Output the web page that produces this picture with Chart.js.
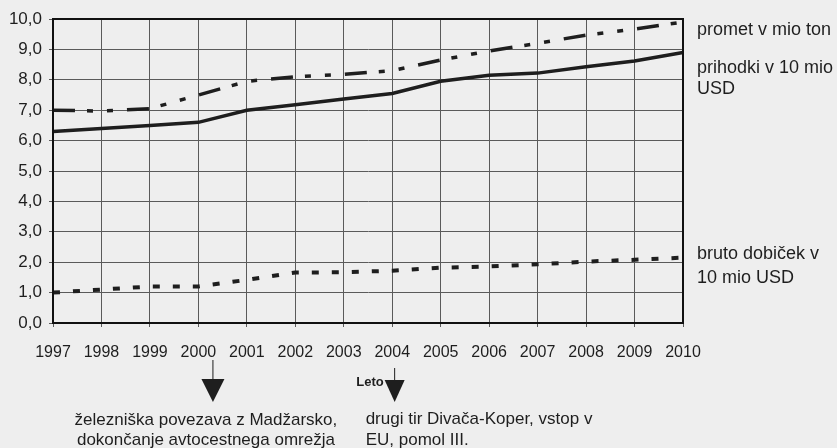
<!DOCTYPE html>
<html>
<head>
<meta charset="utf-8">
<script src="https://cdn.jsdelivr.net/npm/chart.js@4.4.1/dist/chart.umd.min.js"></script>
<style>
  html, body { margin: 0; padding: 0; background: #eeeeee; }
  canvas { display: block; }
</style>
</head>
<body>
<canvas id="c" width="837" height="448"></canvas>
<script>
// Years on the horizontal axis
const years = ['1997','1998','1999','2000','2001','2002','2003','2004','2005','2006','2007','2008','2009','2010'];

// Cargo throughput, million tonnes
const promet = [7.0, 6.97, 7.05, 7.5, 7.95, 8.1, 8.18, 8.3, 8.65, 8.95, 9.2, 9.47, 9.67, 9.9];
// Revenue, 10 million USD
const prihodki = [6.3, 6.4, 6.5, 6.6, 7.0, 7.18, 7.37, 7.55, 7.95, 8.15, 8.22, 8.43, 8.62, 8.9];
// Gross profit, 10 million USD
const bruto = [1.0, 1.1, 1.2, 1.2, 1.42, 1.66, 1.67, 1.72, 1.82, 1.86, 1.93, 2.02, 2.08, 2.15];

// Series labels at the right edge
const seriesLabels = [
  ['promet v mio ton'],
  ['prihodki v 10 mio', 'USD'],
  ['bruto dobiček v', '10 mio USD']
];

// Events marked under the time axis
const events = [
  { at: 3.3, lines: ['železniška povezava z Madžarsko,', 'dokončanje avtocestnega omrežja'] },
  { at: 7.05, lines: ['drugi tir Divača-Koper, vstop v', 'EU, pomol III.'] }
];
const axisTitle = 'Leto';

const FONT = "'Liberation Sans', Arial, sans-serif";
const INK = '#1e1e1e';

const decorations = {
  id: 'decorations',
  afterDraw(chart) {
    const { ctx, chartArea: a, scales } = chart;
    ctx.save();

    // frame around the plot
    ctx.strokeStyle = '#111';
    ctx.lineWidth = 2;
    ctx.strokeRect(a.left, a.top, a.right - a.left, a.bottom - a.top);

    // labels to the right of the lines
    ctx.fillStyle = INK;
    ctx.font = '18px ' + FONT;
    ctx.textAlign = 'left';
    ctx.textBaseline = 'alphabetic';
    const lx = a.right + 14;
    ctx.fillText(seriesLabels[0][0], lx, 35);
    ctx.fillText(seriesLabels[1][0], lx, 73);
    ctx.fillText(seriesLabels[1][1], lx, 94);
    ctx.fillText(seriesLabels[2][0], lx, 259);
    ctx.fillText(seriesLabels[2][1], lx, 283);

    // event arrows
    const b = a.bottom;
    const drawArrow = (x, lineTop, triTop, triBottom, half) => {
      ctx.strokeStyle = INK;
      ctx.lineWidth = 1;
      ctx.beginPath();
      ctx.moveTo(x, lineTop);
      ctx.lineTo(x, triTop);
      ctx.stroke();
      ctx.fillStyle = INK;
      ctx.beginPath();
      ctx.moveTo(x - half, triTop);
      ctx.lineTo(x + half, triTop);
      ctx.lineTo(x, triBottom);
      ctx.closePath();
      ctx.fill();
    };
    const x1 = scales.x.getPixelForValue(events[0].at);
    const x2 = scales.x.getPixelForValue(events[1].at);
    drawArrow(x1, b + 37, b + 56, b + 79, 11.5);
    drawArrow(x2, b + 45, b + 57, b + 79, 10);

    // axis title next to the second arrow
    ctx.fillStyle = INK;
    ctx.font = 'bold 13px ' + FONT;
    ctx.textAlign = 'right';
    ctx.textBaseline = 'middle';
    ctx.fillText(axisTitle, x2 - 11, b + 59);

    // event descriptions
    ctx.font = '17px ' + FONT;
    ctx.textAlign = 'center';
    ctx.fillText(events[0].lines[0], x1 - 7, b + 97);
    ctx.fillText(events[0].lines[1], x1 - 7, b + 117);
    ctx.textAlign = 'left';
    ctx.fillText(events[1].lines[0], x2 - 29, b + 96);
    ctx.fillText(events[1].lines[1], x2 - 29, b + 117);

    ctx.restore();
  }
};

new Chart(document.getElementById('c'), {
  type: 'line',
  data: {
    labels: years,
    datasets: [
      {
        label: 'promet v mio ton',
        data: promet,
        borderColor: INK,
        borderWidth: 3.5,
        borderDash: [22, 12, 6, 14, 6, 14],
        borderCapStyle: 'butt',
        fill: false,
        tension: 0
      },
      {
        label: 'prihodki v 10 mio USD',
        data: prihodki,
        borderColor: INK,
        borderWidth: 3.5,
        fill: false,
        tension: 0
      },
      {
        label: 'bruto dobiček v 10 mio USD',
        data: bruto,
        borderColor: INK,
        borderWidth: 4,
        borderDash: [7, 13],
        borderCapStyle: 'butt',
        fill: false,
        tension: 0
      }
    ]
  },
  options: {
    responsive: false,
    devicePixelRatio: 1,
    animation: false,
    layout: { padding: { top: 19, right: 154, left: 0, bottom: 0 } },
    elements: { point: { radius: 0 } },
    plugins: { legend: { display: false }, tooltip: { enabled: false } },
    scales: {
      x: {
        type: 'category',
        offset: false,
        grid: { color: '#5a5a5a', lineWidth: 1, tickLength: 4, tickColor: '#5a5a5a' },
        border: { color: '#111', width: 2 },
        ticks: {
          color: INK,
          font: { family: FONT, size: 16 },
          padding: 16,
          maxRotation: 0,
          autoSkip: false
        },
        afterFit(s) { s.height = 125; }
      },
      y: {
        min: 0,
        max: 10,
        grid: { color: '#5a5a5a', lineWidth: 1, tickLength: 4, tickColor: '#5a5a5a' },
        border: { color: '#111', width: 2 },
        ticks: {
          stepSize: 1,
          color: INK,
          font: { family: FONT, size: 17 },
          padding: 7,
          callback: v => v.toFixed(1).replace('.', ',')
        },
        afterFit(s) { s.width = 53; }
      }
    }
  },
  plugins: [decorations]
});
</script>
</body>
</html>
